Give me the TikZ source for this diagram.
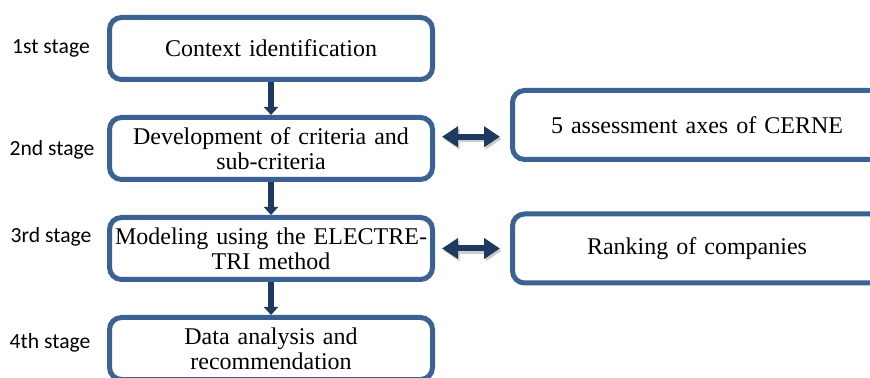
\documentclass[tikz,border=0pt]{standalone}
\usepackage{fontspec}
\setmainfont{Liberation Serif}
\newfontfamily\stagefont{Carlito}
\usetikzlibrary{calc,positioning,arrows.meta}
\definecolor{boxblue}{RGB}{59,98,146}
\definecolor{arrownavy}{RGB}{31,58,96}
\tikzset{
  stagebox/.style={
    rectangle,
    rounded corners=6pt,
    draw=boxblue, line width=2.5pt,
    fill=white,
    text width=158pt,
    %text width=150pt,
    minimum width=161.5pt,
    minimum height=31pt,
    inner sep=0pt,
    align=center,
    font=\fontsize{12}{12.5}\selectfont},
  sidebox/.style={
    stagebox,
    text width=180pt,
    minimum width=184.5pt,
    minimum height=34.5pt},
  stagelabel/.style={font=\stagefont\fontsize{10.8}{12}\selectfont},
  down/.style={draw=arrownavy, line width=3pt, -{Triangle[width=7pt,length=4pt]}},
  both/.style={draw=arrownavy, line width=3pt,
    {Triangle[width=10pt,length=8pt]}-{Triangle[width=10pt,length=8pt]},
    preaction={draw=black!20, line width=3pt, transform canvas={shift={(0.8pt,-1.2pt)}}},
    shorten <=3.5pt, shorten >=5pt},
}
\begin{document}
\begin{tikzpicture}
[x=0.5pt, y=-0.5pt, node distance=50pt]

    \useasboundingbox (0,0) rectangle (870,378);
    \clip (0,0) rectangle (870,378);

    % stage boxes
    \node [stagebox] (context) at (271,48.5) {Context identification};
    \node [stagebox, below of=context] (criteria) {Development of criteria and\\ sub-criteria};
    \node [stagebox, below of=criteria] (modeling) {Modeling using the ELECTRE-\\ TRI method};
    \node [stagebox, below of=modeling] (analysis) {Data analysis and\\ recommendation};

    % boxes on the right
    \node [sidebox] (axes) at (697,125) {5 assessment axes of CERNE};
    \node [sidebox, right of=modeling, node distance=213pt] (ranking) {Ranking of companies};

    % stage labels
    \node [stagelabel] (stage1) at (51,48) {1st stage};
    \node [stagelabel] (stage2) at (52,150) {2nd stage};
    \node [stagelabel] (stage3) at (51,237) {3rd stage};
    \node [stagelabel] (stage4) at (50,343) {4th stage};

    \draw[down] (context.south) -- (criteria.north);
    \draw[down] (criteria.south) -- (modeling.north);
    \draw[down] (modeling.south) -- (analysis.north);

    \coordinate (mid1) at ($(criteria.east)!.5!(axes.west)$);
    \draw[both] (criteria.east |- mid1) -- (axes.west |- mid1);
    \draw[both] (modeling.east) -- (ranking.west);

\end{tikzpicture}
\end{document}
